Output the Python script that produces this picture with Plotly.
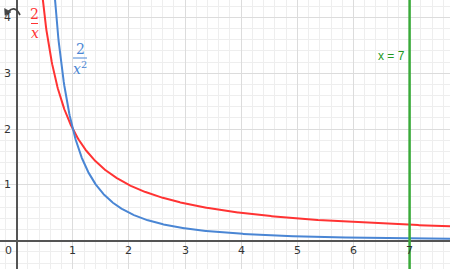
import numpy as np
import plotly.graph_objects as go

# Data / definitions
x_ticks = [1, 2, 3, 4, 5, 6, 7]
y_ticks = [1, 2, 3, 4]
vline_x = 7
x_range = [-0.297, 7.72]
y_range = [-0.506, 4.31]

def f_red(x):
    return 2 / x

def f_blue(x):
    return 2 / x**2

xr = np.linspace(0.44, 7.8, 800)
xb = np.linspace(0.66, 7.8, 800)

RED = "#ff3333"
BLUE = "#4a86d4"
GREEN = "#3aaa3a"
W, H = 450, 269

fig = go.Figure()
fig.add_trace(go.Scatter(x=xr, y=f_red(xr), mode="lines",
                         line=dict(color=RED, width=2), hoverinfo="skip"))
fig.add_trace(go.Scatter(x=xb, y=f_blue(xb), mode="lines",
                         line=dict(color=BLUE, width=2), hoverinfo="skip"))
fig.add_trace(go.Scatter(x=[vline_x, vline_x], y=[y_range[0] - 1, y_range[1] + 1], mode="lines",
                         line=dict(color=GREEN, width=2.5), hoverinfo="skip"))

axis_common = dict(
    showgrid=True, gridcolor="#dcdcdc", gridwidth=1.3,
    dtick=1, tick0=0,
    minor=dict(dtick=0.2, tick0=0, showgrid=True, gridcolor="#eeeeee", gridwidth=1),
    zeroline=True, zerolinecolor="#555555", zerolinewidth=1.5,
    showticklabels=False, ticks="", showline=False, fixedrange=True,
)
fig.update_xaxes(range=x_range, **axis_common)
fig.update_yaxes(range=y_range, **axis_common)

tick_font = dict(family="DejaVu Sans, sans-serif", size=11, color="#333333")
for t in x_ticks:
    fig.add_annotation(x=t, y=0, text=str(t), showarrow=False, font=tick_font,
                       yshift=-10, xanchor="center", yanchor="middle")
for t in y_ticks:
    fig.add_annotation(x=0, y=t, text=str(t), showarrow=False, font=tick_font,
                       xshift=-9, xanchor="center", yanchor="middle")
fig.add_annotation(x=0, y=0, text="0", showarrow=False, font=tick_font,
                   xshift=-8, yshift=-10, xanchor="center", yanchor="middle")

# pixel helpers
def px_to_x(p):
    return x_range[0] + p / W * (x_range[1] - x_range[0])
def px_to_y(p):
    return y_range[1] - p / H * (y_range[1] - y_range[0])
def pp(px, py):
    return f"{px / W:.5f},{1 - py / H:.5f}"

# Function labels (fractions)
serif = "DejaVu Serif, serif"
def frac(cx, cy_num, cy_bar, cy_den, half_w, num, den, color):
    fig.add_annotation(x=px_to_x(cx), y=px_to_y(cy_num), text=num, showarrow=False,
                       font=dict(family=serif, size=14, color=color),
                       xanchor="center", yanchor="middle")
    fig.add_annotation(x=px_to_x(cx), y=px_to_y(cy_den), text=den, showarrow=False,
                       font=dict(family=serif, size=14, color=color),
                       xanchor="center", yanchor="middle")
    fig.add_shape(type="line", x0=px_to_x(cx - half_w), x1=px_to_x(cx + half_w),
                  y0=px_to_y(cy_bar), y1=px_to_y(cy_bar),
                  line=dict(color=color, width=1))

frac(34.5, 14, 23.5, 33, 3.5, "2", "<i>x</i>", RED)
frac(80, 49, 58, 68, 7, "2", "<i>x</i><sup>2</sup>", BLUE)

fig.add_annotation(x=vline_x, y=px_to_y(56), text="x = 7", showarrow=False,
                   font=dict(family="Liberation Sans, Arial, sans-serif", size=12, color="#229922"),
                   xanchor="right", xshift=-3, yanchor="middle")

# undo icon (drawn as shapes)
fig.add_shape(type="path", xref="paper", yref="paper",
              path=f"M {pp(8.5, 11.5)} Q {pp(15, 5)} {pp(20, 15)}",
              line=dict(color="#444444", width=1.8))
fig.add_shape(type="path", xref="paper", yref="paper",
              path=f"M {pp(4.5, 8.5)} L {pp(11, 12)} L {pp(5, 15.5)} Z",
              line=dict(color="#444444", width=0.5), fillcolor="#444444")

fig.update_layout(width=W, height=H, margin=dict(l=0, r=0, t=0, b=0),
                  paper_bgcolor="white", plot_bgcolor="white", showlegend=False)

fig.write_html("out.html")
